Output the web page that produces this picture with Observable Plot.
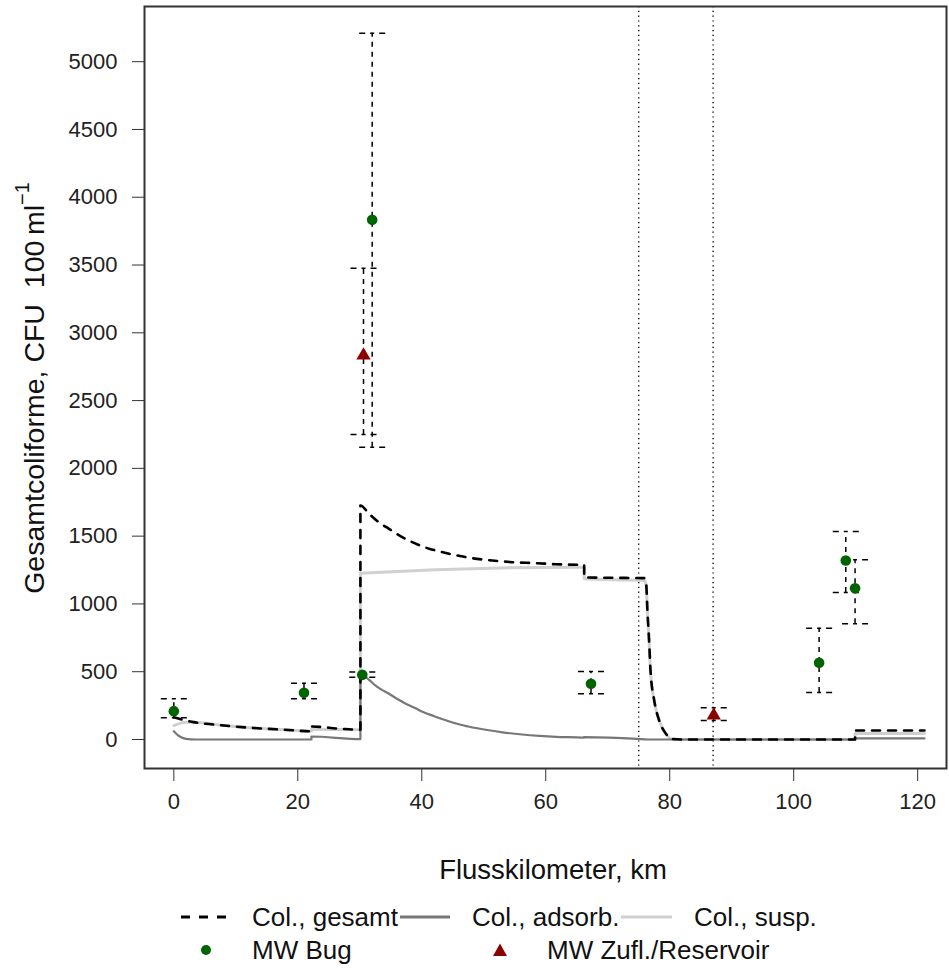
<!DOCTYPE html>
<html><head><meta charset="utf-8">
<script src="https://cdn.jsdelivr.net/npm/d3@7"></script>
<script src="https://cdn.jsdelivr.net/npm/@observablehq/plot@0.6"></script>
<style>
body{margin:0;background:#fff;font-family:"Liberation Sans",Arial,sans-serif;}
#wrap{position:relative;width:949px;height:970px;background:#fff;}
.abs{position:absolute;white-space:nowrap;color:#111;}
</style></head><body><div id="wrap"></div>
<script>
// ---- tick labels / reference lines ----
const xTicks = [0, 20, 40, 60, 80, 100, 120];
const yTicks = [0, 500, 1000, 1500, 2000, 2500, 3000, 3500, 4000, 4500, 5000];
const dividerKm = [75, 87];

// ---- modelled series ----
const gesamtKm  = [0, 1.5, 3.2, 8.1, 13.5, 17.8, 22.2, 22.2, 26.9, 30.1, 30.1, 31.5, 33, 34.7, 36.3, 37.9, 39.5, 41.2, 42.8, 44.4, 48.2, 51.4, 54.6, 58.4, 61.6, 65.9, 66.2, 66.2, 70, 75.9, 76.2, 76.4, 76.7, 76.9, 77.5, 78.3, 79.4, 80.2, 81.8, 90, 100, 109.9, 109.9, 115, 121.1];
const gesamtVal = [164, 145, 128, 103, 83, 72, 61, 96, 79, 72, 1726, 1665, 1605, 1554, 1508, 1468, 1435, 1407, 1388, 1370, 1337, 1320, 1308, 1301, 1293, 1289, 1289, 1195, 1193, 1190, 1149, 952, 706, 509, 288, 140, 42, 5, 0, 0, 0, 0, 66, 66, 66];

const adsorbKm  = [0, 0.4, 0.7, 1.2, 2, 3.6, 22.2, 22.2, 30.1, 30.1, 31.5, 32.5, 33.5, 34.7, 36, 37.5, 39, 40.1, 42, 44, 45.5, 47.5, 50.8, 53, 56.2, 59, 61.6, 65.9, 66.2, 66.2, 74.7, 76.5, 109.9, 109.9, 121.1];
const adsorbVal = [61, 42, 30, 17, 5, 0, 0, 22, 3, 485, 440, 400, 368, 337, 300, 262, 230, 205, 172, 140, 118, 96, 68, 53, 37, 27, 20, 14, 13, 17, 5, 0, 0, 8, 8];

const suspKm  = [0, 2, 3.2, 8.1, 13.5, 17.8, 22.2, 22.2, 30.1, 30.1, 65.9, 66.2, 66.2, 75.9, 76.2, 76.4, 76.7, 76.9, 77.5, 78.3, 79.4, 80.2, 81.8, 109.9, 109.9, 121.1];
const suspVal = [103, 128, 128, 103, 83, 72, 61, 74, 72, 1227, 1271, 1271, 1185, 1173, 1140, 945, 700, 503, 283, 137, 40, 4, 0, 0, 45, 45];

// ---- measured means with ranges ----
const bugKm   = [0, 21, 30.4, 32, 67.3, 104.1, 108.4, 109.9];
const bugMean = [209, 344, 477, 3834, 411, 566, 1320, 1116];
const bugLo   = [160, 300, 460, 2156, 337, 347, 1084, 853];
const bugHi   = [300, 415, 497, 5210, 502, 821, 1534, 1326];

const zuflKm   = [30.6, 87.1];
const zuflMean = [2833, 177];
const zuflLo   = [2250, 140];
const zuflHi   = [3477, 234];

// ---- build tables ----
const toLine = (xs, ys) => xs.map((x, i) => ({x, y: ys[i]}));
const gesamt = toLine(gesamtKm, gesamtVal);
const adsorb = toLine(adsorbKm, adsorbVal);
const susp = toLine(suspKm, suspVal);
const bug = bugKm.map((x, i) => ({x, y: bugMean[i], lo: bugLo[i], hi: bugHi[i]}));
const zufl = zuflKm.map((x, i) => ({x, y: zuflMean[i], lo: zuflLo[i], hi: zuflHi[i]}));
const allPts = [...bug, ...zufl];

// horizontal cap symbol, drawn outward from the centre (dash restarts per half)
const capSymbol = {
  draw(ctx, size) {
    const r = Math.sqrt(size / Math.PI);
    ctx.moveTo(0, 0); ctx.lineTo(-r, 0);
    ctx.moveTo(0, 0); ctx.lineTo(r, 0);
  }
};

const capStyle = {symbol: capSymbol, r: 13, fill: "none", stroke: "black", strokeWidth: 1.5, strokeDasharray: "2,5,6,20"};

const chart = Plot.plot({
  width: 949,
  height: 830,
  marginLeft: 144,
  marginRight: 3,
  marginTop: 6,
  marginBottom: 62,
  x: {domain: [-4.73, 124.65]},
  y: {domain: [-214, 5407]},
  style: {fontFamily: "'Liberation Sans', Arial, sans-serif", fontSize: "22px", color: "#222", background: "white", overflow: "visible"},
  marks: [
    Plot.ruleX(dividerKm, {stroke: "black", strokeWidth: 1.4, strokeDasharray: "1.2,3.6"}),
    Plot.line(susp, {x: "x", y: "y", stroke: "#d0d0d0", strokeWidth: 3, curve: "monotone-x"}),
    Plot.line(adsorb, {x: "x", y: "y", stroke: "#777", strokeWidth: 2.2, curve: "monotone-x"}),
    Plot.line(gesamt, {x: "x", y: "y", stroke: "black", strokeWidth: 2.6, strokeDasharray: "8,8", curve: "monotone-x"}),
    Plot.ruleX(allPts, {x: "x", y1: "lo", y2: "hi", stroke: "black", strokeWidth: 1.5, strokeDasharray: "5,5"}),
    Plot.dot(allPts, {x: "x", y: "lo", ...capStyle}),
    Plot.dot(allPts, {x: "x", y: "hi", ...capStyle}),
    Plot.dot(bug, {x: "x", y: "y", r: 5.3, fill: "#006400"}),
    Plot.dot(zufl, {x: "x", y: "y", symbol: "triangle", r: 5.3, fill: "#8B0000"}),
    Plot.frame({stroke: "#333", strokeWidth: 2}),
    Plot.axisY({ticks: yTicks, tickSize: 12, tickPadding: 15, label: null, stroke: "#333", tickFormat: d => String(d)}),
    Plot.axisX({ticks: xTicks, tickSize: 13, tickPadding: 12, label: null, stroke: "#333", tickFormat: d => String(d)})
  ]
});

const wrap = document.getElementById("wrap");
chart.style.position = "absolute";
chart.style.left = "0px";
chart.style.top = "0px";
wrap.appendChild(chart);

function addDiv(html, css) {
  const d = document.createElement("div");
  d.className = "abs";
  d.innerHTML = html;
  Object.assign(d.style, css);
  wrap.appendChild(d);
  return d;
}

// axis titles
addDiv("Flusskilometer, km", {left: "553px", top: "856px", fontSize: "27.5px", lineHeight: "28px", transform: "translateX(-50%)"});
addDiv("Gesamtcoliforme, CFU&nbsp; 100&#8239;ml<sup style='font-size:0.7em;vertical-align:0.75em;line-height:0'>&minus;1</sup>",
  {left: "34px", top: "388px", fontSize: "28.5px", lineHeight: "28px", transform: "translate(-50%,-50%) rotate(-90deg)"});

// legend
function sample(svgInner, left, top, w, h) {
  addDiv(`<svg width="${w}" height="${h}" style="display:block">${svgInner}</svg>`, {left: left + "px", top: top + "px"});
}
const row1 = 917, row2 = 950, lf = 26;
const txt = (s, left, row) => addDiv(s, {left: left + "px", top: (row - lf / 2) + "px", fontSize: lf + "px", lineHeight: lf + "px"});
sample(`<line x1="1" y1="6" x2="47" y2="6" stroke="black" stroke-width="3" stroke-dasharray="9,9"/>`, 180, row1 - 6, 50, 12);
txt("Col., gesamt", 252, row1);
sample(`<line x1="0" y1="6" x2="50" y2="6" stroke="#777" stroke-width="3"/>`, 400, row1 - 6, 50, 12);
txt("Col., adsorb.", 472, row1);
sample(`<line x1="0" y1="6" x2="51" y2="6" stroke="#d0d0d0" stroke-width="3"/>`, 621, row1 - 6, 52, 12);
txt("Col., susp.", 694, row1);
sample(`<circle cx="8" cy="8" r="5" fill="#006400"/>`, 198, row2 - 8, 16, 16);
txt("MW Bug", 252, row2);
sample(`<path d="M8,1.5 L15,14 L1,14 Z" fill="#8B0000"/>`, 492, row2 - 8, 16, 16);
txt("MW Zufl./Reservoir", 547, row2);
</script></body></html>
